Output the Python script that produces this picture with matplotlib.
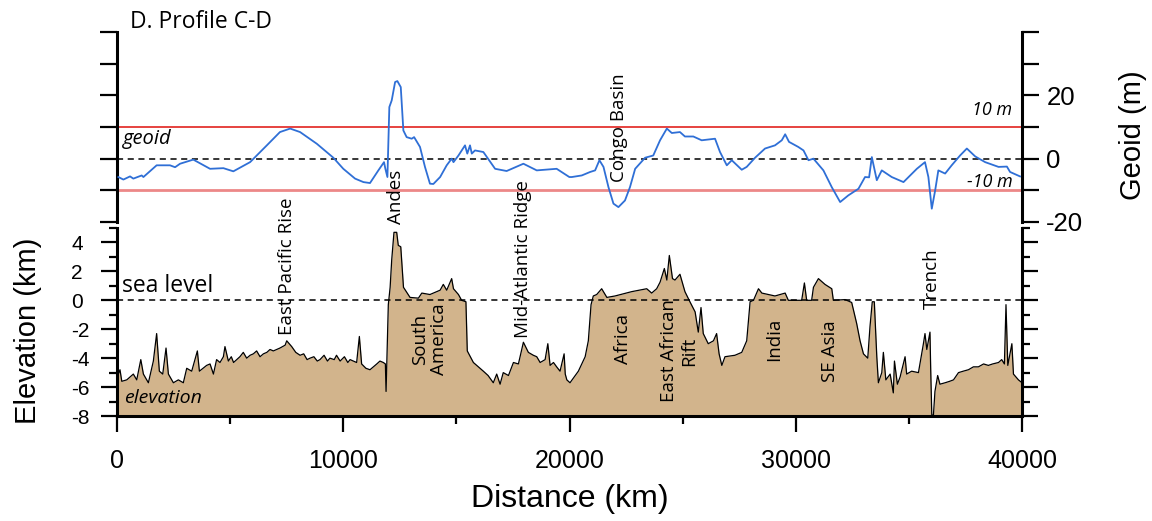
import matplotlib
matplotlib.use("Agg")
import matplotlib.pyplot as plt
from matplotlib.ticker import MultipleLocator, FixedLocator

plt.rcParams['axes.unicode_minus'] = False

# geoid height along profile C-D (distance in km, geoid in m)
geoid_x = [58, 280, 575, 720, 1090, 1165, 1750, 2340, 2565, 2785, 3370, 4110, 4700,
           5140, 5880, 6620, 7200, 7650, 8090, 8830, 9560, 10000, 10520, 10890, 11180,
           11550, 11800, 11860, 11950, 12035, 12140, 12290, 12390, 12540, 12655, 12800,
           13025, 13130, 13390, 13610, 13830, 13980, 14280, 14570, 14790, 14870, 15090,
           15380, 15480, 15600, 15680, 15820, 16190, 16710, 17220, 17960, 18550, 19430,
           19990, 20100, 20540, 20910, 21130, 21320, 21500, 21720, 21940, 22160, 22450,
           22670, 22900, 23340, 23700, 24000, 24300, 24520, 24880, 25100, 25470, 25840,
           26430, 26650, 26950, 27170, 27610, 27830, 28200, 28640, 29080, 29380, 29530,
           29700, 30110, 30340, 30560, 30780, 31220, 31590, 31960, 32320, 32770, 33060,
           33240, 33360, 33580, 33800, 34240, 34760, 35350, 35710, 35860, 36010, 36160,
           36300, 36600, 36890, 37260, 37560, 37930, 38370, 38960, 39330, 39470, 39910]
geoid_m = [-5.8, -6.6, -5.6, -6.3, -5.3, -5.8, -2.1, -2.1, -2.7, -1.6, -0.3, -3.2, -3.0,
           -4.0, -1.1, 4.2, 8.4, 9.5, 8.4, 4.7, 0.3, -3.2, -6.3, -7.4, -7.7,
           -3.7, -1.1, -3.2, -5.8, 16.3, 18.4, 24.2, 24.5, 22.6, 8.9, 6.8,
           6.3, 6.8, 3.7, -2.6, -7.9, -8.0, -5.8, -2.1, 0.0, -1.1, 1.0,
           4.2, 1.6, 4.2, 1.6, 2.6, 2.1, -3.2, -3.9, -1.6, -3.7, -3.2,
           -5.8, -5.8, -5.3, -4.2, -3.7, -0.5, -2.6, -9.0, -14.2, -15.3, -13.2,
           -9.0, -3.2, 0.3, 1.0, 5.8, 9.5, 8.1, 8.4, 7.0, 7.0, 5.8,
           6.3, 2.1, -2.1, -0.5, -3.5, -2.6, 0.3, 3.2, 4.2, 5.8, 7.7,
           5.3, 3.7, 2.6, -0.5, 0.0, -3.7, -9.0, -13.7, -11.6, -9.5, -5.8,
           -5.9, 0.5, -6.8, -3.7, -5.8, -7.4, -3.2, -1.1, -5.8, -15.8, -10.0,
           -3.7, -4.7, -2.1, 1.0, 3.2, 0.7, -1.1, -2.6, -2.5, -4.2, -5.6]

# topography / bathymetry along the same profile (km)
elev_x = [0, 60, 130, 210, 430, 720, 870, 1050, 1165, 1385, 1605, 1750, 1870, 2020,
          2165, 2270, 2490, 2710, 2930, 3080, 3300, 3550, 3640, 3960, 4110, 4260, 4400,
          4550, 4700, 4770, 4920, 5050, 5150, 5290, 5430, 5580, 5730, 5880, 6025, 6170,
          6320, 6470, 6620, 6760, 6910, 7200, 7430, 7500, 7720, 7900, 8090, 8250, 8400,
          8530, 8700, 8850, 8970, 9150, 9300, 9410, 9600, 9700, 9860, 10050, 10200,
          10300, 10590, 10710, 10810, 11000, 11180, 11330, 11480, 11620,
          11770, 11860, 11890, 11990, 12070, 12140, 12240, 12360, 12430, 12540, 12660,
          12950, 13320, 13470, 13830, 14280, 14420, 14570, 14790, 14870, 15090, 15230,
          15420, 15480, 15750, 16190, 16400, 16630, 16780, 16930, 17070, 17300, 17520,
          17740, 17960, 18180, 18400, 18550, 18700, 18920, 19040, 19140, 19290, 19430,
          19580, 19760, 19810,
          19880, 20020, 20390, 20690, 20830, 20950, 21050, 21200, 21420, 21650, 22010,
          22750, 23410, 23630, 23850, 24000, 24190, 24300, 24410, 24550, 24660, 24880,
          25100, 25320, 25550, 25690, 25810, 25910, 26130, 26360, 26500, 26610, 26730,
          26870, 27310, 27610, 27830, 27980, 28130, 28350, 28500, 29080, 29530, 29670,
          30260, 30380, 30480, 30700, 30780, 31000, 31290, 31590, 31660, 32180, 32470,
          32690, 32840, 32990, 33180, 33280, 33380, 33470, 33580, 33650, 33800, 33870,
          33980, 34170, 34310, 34360, 34490, 34610, 34830, 34900, 35120, 35420, 35640,
          35710, 35790, 35930, 35960, 36010, 36080, 36150, 36270, 36370, 36600, 36800,
          36970, 37190, 37400, 37630, 37850, 38070, 38300, 38510, 38700, 38960, 39100,
          39220, 39290, 39370, 39550, 39620, 39840, 40000]
elev_km = [-5.3, -5.1, -4.8, -5.6, -5.5, -5.1, -5.5, -4.1, -5.1, -5.7, -4.2, -2.3, -4.9, -5.1,
           -3.3, -5.1, -5.7, -5.5, -5.7, -4.7, -4.9, -3.5, -4.9, -4.5, -4.4, -5.1, -4.1,
           -4.3, -3.9, -3.2, -4.2, -3.9, -4.3, -4.1, -3.9, -3.6, -4.0, -3.8, -3.7, -3.5,
           -3.9, -3.7, -3.6, -3.4, -3.5, -3.3, -3.1, -2.8, -3.2, -3.6, -3.8, -3.7, -4.1,
           -4.0, -3.9, -4.2, -4.1, -3.8, -4.2, -4.0, -4.1, -3.8, -4.2, -3.9, -4.3,
           -4.1, -4.3, -2.5, -4.4, -4.7, -4.8, -4.6, -4.4, -4.2,
           -4.3, -4.4, -6.3, -0.3, 0.9, 2.8, 4.7, 4.7, 3.8, 3.7, 0.9,
           0.2, 0.15, 0.5, 0.4, 0.7, 1.1, 0.7, 1.5, 0.8, 0.4, 0.0,
           -0.1, -3.5, -4.3, -4.9, -5.2, -5.7, -5.1, -5.8, -5.0, -5.2, -4.3,
           -4.4, -2.9, -3.6, -3.8, -3.9, -4.3, -4.1, -3.0, -4.5, -4.3, -4.6,
           -4.9, -3.7, -5.1,
           -5.5, -5.7, -4.9, -3.9, -2.8, -0.3, 0.3, 0.4, 0.8, 0.2, 0.3,
           0.6, 0.8, 0.5, 0.8, 1.25, 2.2, 1.4, 3.1, 1.5, 1.4, 1.8,
           0.6, -0.1, -0.8, -2.2, -0.5, -2.3, -3.0, -2.8, -2.3, -3.7, -4.5,
           -3.9, -3.8, -3.6, -2.8, -0.1, 0.0, 0.8, 0.5, 0.3, 0.5, 0.0,
           0.0, 1.2, 0.0, 0.0, 0.9, 1.5, 1.1, 0.8, 0.0, 0.05, -0.15,
           -1.6, -2.8, -3.7, -4.0, -1.8, -0.1, -0.1, -3.9, -5.7, -5.0, -3.6,
           -5.5, -5.1, -6.4, -4.2, -5.8, -5.3, -3.9, -5.1, -4.9, -5.0, -3.0,
           -2.3, -3.4, -2.2, -4.6, -7.9, -8.0, -6.3, -5.2, -5.8, -5.7, -5.6,
           -5.5, -5.0, -4.9, -4.8, -4.6, -4.6, -4.4, -4.5, -4.4, -4.3, -4.1,
           -4.4, -0.3, -4.5, -3.0, -5.1, -5.5, -5.7]

fig = plt.figure(figsize=(11.52, 5.21), dpi=100)
ax_g = fig.add_axes([0.1016, 0.5739, 0.7856, 0.3647])
ax_e = fig.add_axes([0.1016, 0.2015, 0.7856, 0.3609])

sans = ['Liberation Sans', 'DejaVu Sans']
note = ['Open Sans', 'DejaVu Sans']
spine_w = 2.2

# --- geoid panel ---
ax_g.set_facecolor('none')
ax_g.plot(geoid_x, geoid_m, color='#2f6fd6', lw=1.3, zorder=3)
ax_g.axhline(10, color='#e2231f', lw=1.2, zorder=2)
ax_g.axhline(-10, color='#ec8888', lw=2.0, zorder=2)
ax_g.axhline(0, color='black', lw=1.1, dashes=(4, 3), zorder=2)
ax_g.set_xlim(0, 40000)
ax_g.set_ylim(-20, 40)
for s in ['top', 'bottom']:
    ax_g.spines[s].set_visible(False)
for s in ['left', 'right']:
    ax_g.spines[s].set_linewidth(spine_w)
ax_g.set_xticks([])
ax_g.yaxis.set_major_locator(MultipleLocator(10))
ax_g.tick_params(axis='y', which='major', direction='out', length=12.5, width=1.6,
                 left=True, right=True, labelleft=False, labelright=True,
                 labelsize=18.5, pad=5)
ax_g.set_yticklabels(['' if v not in (-20, 0, 20) else '%d' % v
                      for v in ax_g.get_yticks()])
for t in ax_g.get_yticklabels():
    t.set_family(sans)

ax_g.text(265, 6.1, 'geoid', fontsize=14.5, style='italic', family=note, va='center')
ax_g.text(39560, 15.4, '10 m', fontsize=13, style='italic', family=note,
          ha='right', va='center')
ax_g.text(39600, -7.3, '-10 m', fontsize=13, style='italic', family=note,
          ha='right', va='center')
ax_g.text(22190, -7.5, 'Congo Basin', rotation=90, fontsize=13.5, family=note,
          ha='center', va='bottom')

# --- elevation panel ---
ax_e.set_facecolor('none')
ax_e.fill_between(elev_x, elev_km, -8, color='#d2b48c', lw=0, zorder=1)
ax_e.plot(elev_x, elev_km, color='black', lw=0.9, zorder=2)
ax_e.axhline(0, color='black', lw=1.1, dashes=(4, 3), zorder=3)
ax_e.set_xlim(0, 40000)
ax_e.set_ylim(-8, 5)
ax_e.spines['top'].set_visible(False)
for s in ['left', 'right', 'bottom']:
    ax_e.spines[s].set_linewidth(spine_w)
ax_e.xaxis.set_major_locator(MultipleLocator(10000))
ax_e.xaxis.set_minor_locator(MultipleLocator(5000))
ax_e.yaxis.set_major_locator(FixedLocator([-8, -6, -4, -2, 0, 2, 4]))
ax_e.yaxis.set_minor_locator(MultipleLocator(1))
ax_e.tick_params(which='major', direction='out', length=11.5, width=1.6)
ax_e.tick_params(which='minor', direction='out', length=5.5, width=1.6)
ax_e.tick_params(axis='y', which='both', left=True, right=True, labelright=False)
ax_e.tick_params(axis='y', labelsize=15, pad=21.5)
ax_e.tick_params(axis='x', labelsize=18, pad=12.5)
for t in ax_e.get_yticklabels():
    t.set_family(sans)
    t.set_horizontalalignment('left')
for t in ax_e.get_xticklabels():
    t.set_family(sans)

ax_e.text(220, 0.97, 'sea level', fontsize=16.5, family=note, va='center')
ax_e.text(310, -6.77, 'elevation', fontsize=14, style='italic', family=note,
          va='center')

# rotated feature names
features = [
    (7514, -2.4, 'East Pacific Rise', 'bottom'),
    (12330, 5.25, 'Andes', 'bottom'),
    (17945, -2.6, 'Mid-Atlantic Ridge', 'bottom'),
    (36020, -0.63, 'Trench', 'bottom'),
    (13810, -2.7, 'South\nAmerica', 'center'),
    (22365, -2.7, 'Africa', 'center'),
    (24840, -3.5, 'East African\nRift', 'center'),
    (29040, -2.7, 'India', 'center'),
    (31515, -3.5, 'SE Asia', 'center'),
]
for fx, fy, name, va in features:
    ax_e.text(fx, fy, name, rotation=90, fontsize=13.5, family=note,
              ha='center', va=va, multialignment='center', linespacing=1.1)

fig.text(130 / 1152, 1 - 22 / 521, 'D. Profile C-D', fontsize=16.5, family=note,
         va='center')
fig.text(28 / 1152, 1 - 331 / 521, 'Elevation (km)', rotation=90, fontsize=21,
         family=sans, ha='center', va='center')
fig.text(1133 / 1152, 1 - 135 / 521, 'Geoid (m)', rotation=90, fontsize=21,
         family=sans, ha='center', va='center')
fig.text(570 / 1152, 1 - 499 / 521, 'Distance (km)', fontsize=23, family=sans,
         ha='center', va='center')

fig.savefig('out.png', dpi=100)
